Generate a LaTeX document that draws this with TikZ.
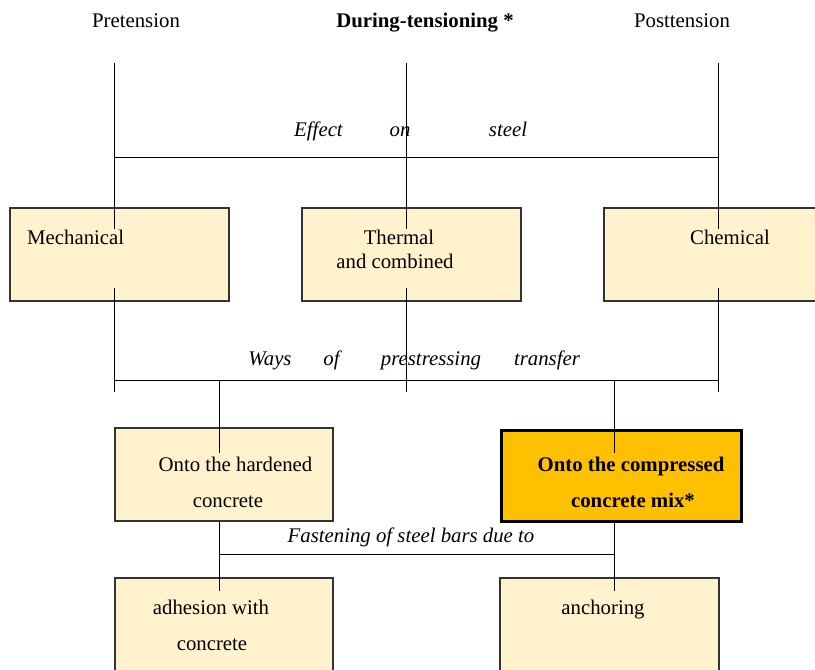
\documentclass[tikz,border=0pt]{standalone}
\usepackage{fontspec}
\setmainfont{Liberation Serif}
\definecolor{boxfill}{HTML}{FFF2CC}
\definecolor{hotfill}{HTML}{FFC000}
\definecolor{boxline}{HTML}{333333}
\begin{document}
\begin{tikzpicture}[x=1pt,y=-1pt,
  txt/.style={inner sep=0pt,anchor=base,font=\fontsize{20.8}{24}\selectfont},
  itxt/.style={txt,font=\fontsize{20.8}{24}\selectfont\itshape},
  btxt/.style={txt,font=\fontsize{20.8}{24}\selectfont\bfseries},
  panel/.style={draw=boxline,fill=boxfill,line width=1.1pt},
  hotpanel/.style={draw=black,fill=hotfill,line width=3pt},
  wire/.style={draw=black,line width=0.8pt}]
\useasboundingbox (0,0) rectangle (815,670);
% boxes
\path[panel] (10,208) rectangle (229,301) coordinate (mechbox);
\path[panel] (302,208) rectangle (521,301) coordinate (thermbox);
\path[panel] (604,208) rectangle (830,301) coordinate (chembox);
\path[panel] (115,428) rectangle (333,521) coordinate (hardbox);
\path[hotpanel] (501,430) rectangle (741,521) coordinate (compbox);
\path[panel] (115,578) rectangle (333,690) coordinate (adhbox);
\path[panel] (500,578) rectangle (719,690) coordinate (anchbox);
% titles
\node[txt] (pre) at (136,27) {Pretension};
\node[btxt] (dur) at (425,27) {During-tensioning *};
\node[txt] (post) at (682,27) {Posttension};
% coordinates
\coordinate (a1) at (114,63);  \coordinate (a2) at (406,63);  \coordinate (a3) at (718,63);
\coordinate (b1) at (114,229); \coordinate (b2) at (406,229); \coordinate (b3) at (718,229);
\coordinate (h1) at (114,157); \coordinate (h2) at (718,157);
\coordinate (c1) at (114,288); \coordinate (c2) at (406,288); \coordinate (c3) at (718,288);
\coordinate (d1) at (114,392); \coordinate (d2) at (406,392); \coordinate (d3) at (718,392);
\coordinate (w1) at (114,380); \coordinate (w2) at (718,380);
\coordinate (e1) at (219,380); \coordinate (e2) at (614,380);
\coordinate (f1) at (219,453); \coordinate (f2) at (614,453);
\coordinate (g1) at (219,521); \coordinate (g2) at (614,522);
\coordinate (k1) at (219,591); \coordinate (k2) at (614,591);
\coordinate (q1) at (219,554); \coordinate (q2) at (614,554);
% wires
\draw[wire] (a1) -- (b1); \draw[wire] (a2) -- (b2); \draw[wire] (a3) -- (b3);
\draw[wire] (h1) -- (h2);
\draw[wire] (c1) -- (d1); \draw[wire] (c2) -- (d2); \draw[wire] (c3) -- (d3);
\draw[wire] (w1) -- (w2);
\draw[wire] (e1) -- (f1); \draw[wire] (e2) -- (f2);
\draw[wire] (g1) -- (k1); \draw[wire] (g2) -- (k2);
\draw[wire] (q1) -- (q2);
% labels on wires
\node[itxt] (eff1) at (318.5,136) {Effect};
\node[itxt] (eff2) at (400,136) {on};
\node[itxt] (eff3) at (508,136) {steel};
\node[itxt] (way1) at (270,365) {Ways};
\node[itxt] (way2) at (331.5,365) {of};
\node[itxt] (way3) at (431,365) {prestressing};
\node[itxt] (way4) at (547,365) {transfer};
\node[itxt] (fast) at (411,542) {Fastening of steel bars due to};
% box texts
\node[txt,anchor=base west] (mech) at (27,244) {Mechanical};
\node[txt] (therm1) at (399,244) {Thermal};
\node[txt] (therm2) at (395,268) {and combined};
\node[txt] (chem) at (730,244) {Chemical};
\node[txt] (hard1) at (235.5,471) {Onto the hardened};
\node[txt] (hard2) at (228,507) {concrete};
\node[btxt] (comp1) at (631,471) {Onto the compressed};
\node[btxt] (comp2) at (633,507) {concrete mix*};
\node[txt] (adh1) at (211,614) {adhesion with};
\node[txt] (adh2) at (212,650) {concrete};
\node[txt] (anch) at (603,614) {anchoring};
\end{tikzpicture}
\end{document}
